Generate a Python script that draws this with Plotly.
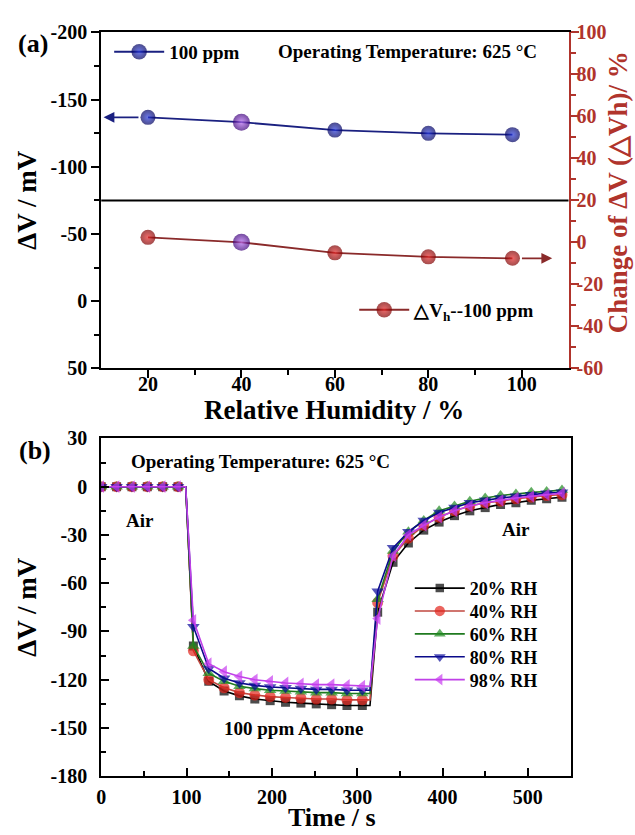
import plotly.graph_objects as go

W, H = 635, 835

# ---------------- panel (a) data ----------------
rh = [20, 40, 60, 80, 98]
dv_100ppm = [-136.8, -133.2, -127.3, -124.9, -123.9]   # left axis, mV
dv_change = [2.4, 0.0, -5.0, -6.9, -7.6]              # right axis, %
rh_ticks = [20, 40, 60, 80, 100]
rh_minor = [30, 50, 70, 90]
dv_ticks_a = [-200, -150, -100, -50, 0, 50]
dv_minor_a = [-175, -125, -75, -25, 25]
chg_ticks = [-60, -40, -20, 0, 20, 40, 60, 80, 100]
chg_minor = [-50, -30, -10, 10, 30, 50, 70, 90]

# ---------------- panel (b) data ----------------
time_s = [0, 18, 36, 54, 72, 90, 99,
          108, 126, 144, 162, 180, 198, 216, 234, 252, 270, 288, 306, 315,
          324, 342, 360, 378, 396, 414, 432, 450, 468, 486, 504, 522, 540]
unmarked_t = [99, 315]
rh20 = [0, 0, 0, 0, 0, 0, 0,
        -99, -121, -127, -130, -132, -133, -134, -134.5, -135, -135.5, -136, -136, -136,
        -78, -47, -35, -27, -22, -18, -15, -13, -11, -10, -8.5, -7.5, -6.5]
rh40 = [0, 0, 0, 0, 0, 0, 0,
        -102, -120, -125, -128, -129.5, -130.5, -131, -131.5, -132, -132, -132.5, -132.5, -132.5,
        -72, -43, -32, -24, -19, -15, -12, -10, -9, -7.5, -6.5, -5.5, -5]
rh60 = [0, 0, 0, 0, 0, 0, 0,
        -99, -116, -121, -124, -125.5, -126.5, -127, -127.5, -128, -128, -128.5, -128.5, -128.5,
        -70, -40, -28, -21, -15, -12, -9, -7, -5.5, -4.5, -3.5, -3, -2]
rh80 = [0, 0, 0, 0, 0, 0, 0,
        -87, -113, -119, -122, -123.5, -124.5, -125, -125.5, -126, -126, -126.5, -126.5, -126.5,
        -65, -38, -28, -21, -16, -13, -10, -8.5, -7, -6, -5, -4, -3.5]
rh98 = [0, 0, 0, 0, 0, 0, 0,
        -83, -110, -115, -118, -120, -121, -122, -122.5, -123, -123, -123.5, -124, -124,
        -82, -43, -30, -24, -19, -15, -12, -10, -8.5, -7, -6, -5, -4]
series_names = ["20% RH", "40% RH", "60% RH", "80% RH", "98% RH"]
time_ticks = [0, 100, 200, 300, 400, 500]
dv_ticks_b = [-180, -150, -120, -90, -60, -30, 0, 30]

# ---------------- styling ----------------
FONT = "Liberation Serif"
DARKRED = "#b0342c"


def px(x):
    return x / W


def py(y):
    return 1 - y / H


# plot boxes in pixels (left, top, right, bottom)
box_a = (97, 22, 568, 367)
box_b = (97, 439, 570, 786)

fig = go.Figure()

# ---- panel (a) traces ----
ref_idx = rh.index(40)
blue_edge = ["#3a0078" if i == ref_idx else "#00005c" for i in range(len(rh))]
blue_core = ["#b86cf4" if i == ref_idx else "#2a3ce0" for i in range(len(rh))]
red_edge = ["#3a0078" if i == ref_idx else "#7c0000" for i in range(len(rh))]
red_core = ["#b86cf4" if i == ref_idx else "#e82a2a" for i in range(len(rh))]
sizes_a = [17 if i == ref_idx else 15 for i in range(len(rh))]

fig.add_trace(go.Scatter(
    x=rh, y=dv_100ppm, mode="lines+markers", name="100 ppm",
    xaxis="x", yaxis="y", legend="legend", showlegend=True,
    line=dict(color="#1a2080", width=1.8),
    marker=dict(color=blue_edge, size=sizes_a, line=dict(width=0),
                gradient=dict(type="radial", color=blue_core)),
))
fig.add_trace(go.Scatter(
    x=rh, y=dv_change, mode="lines+markers", name="△V<sub>h</sub>--100 ppm",
    xaxis="x", yaxis="y2", legend="legend2", showlegend=True,
    line=dict(color="#8a2a2a", width=1.8),
    marker=dict(color=red_edge, size=sizes_a, line=dict(width=0),
                gradient=dict(type="radial", color=red_core)),
))

# ---- panel (b) traces (one single-entry legend per series for exact row spacing) ----
styles = [
    ("#000000", "#000000", "square", 9),
    ("#e3241b", "#c0473f", "circle", 11),
    ("#1f8a1f", "#1f7a1f", "triangle-up", 11),
    ("#0a0a9a", "#0a0a8a", "triangle-down", 11),
    ("#c83cf0", "#c040e8", "triangle-left", 11),
]
leg_font_b = dict(family=FONT, size=18, color="black", weight="bold")
legend_rows = {}
for k, (name, ys, (mc, lc, sym, ms)) in enumerate(
        zip(series_names, [rh20, rh40, rh60, rh80, rh98], styles)):
    msz = [0 if t in unmarked_t else ms for t in time_s]
    lname = "legend%d" % (k + 3)
    fig.add_trace(go.Scatter(
        x=time_s, y=ys, mode="lines+markers", name=name,
        xaxis="x2", yaxis="y3", legend=lname, showlegend=True,
        line=dict(color=lc, width=1.6),
        marker=dict(color=mc, symbol=sym, size=msz, line=dict(width=0)),
    ))
    legend_rows[lname] = dict(x=px(408), y=py(593 + 23.5 * k), xanchor="left",
                              yanchor="middle", bgcolor="rgba(0,0,0,0)", itemwidth=50,
                              font=leg_font_b)

tickfont = dict(family=FONT, size=20, color="black", weight="bold")
titlefont = dict(family=FONT, size=27, color="black", weight="bold")
ytitlefont = dict(family=FONT, size=27, color="black", weight="bold")

axis_common = dict(showline=True, linecolor="black", linewidth=2, showgrid=False,
                   zeroline=False, tickwidth=2, tickcolor="black", tickfont=tickfont)

fig.update_layout(
    width=W, height=H, margin=dict(l=0, r=0, t=0, b=0),
    paper_bgcolor="white", plot_bgcolor="white", showlegend=True,
    font=dict(family=FONT, color="black"),
    xaxis=dict(**axis_common, domain=[px(box_a[0]), px(box_a[2])], anchor="y",
               range=[10, 110], tickmode="array", tickvals=rh_ticks,
               ticktext=[str(v) for v in rh_ticks], ticks="outside", ticklen=8,
               ticklabelstandoff=-11,
               minor=dict(tickmode="array", tickvals=rh_minor, ticks="outside", ticklen=5,
                          tickwidth=2, tickcolor="black"),
               mirror=True),
    yaxis=dict(**axis_common, domain=[py(box_a[3]), py(box_a[1])], anchor="x",
               range=[50, -200], tickmode="array", tickvals=dv_ticks_a,
               ticktext=[str(v) for v in dv_ticks_a], ticks="outside", ticklen=8,
               minor=dict(tickmode="array", tickvals=dv_minor_a, ticks="outside", ticklen=5,
                          tickwidth=2, tickcolor="black")),
    yaxis2=dict(showline=True, linecolor=DARKRED, linewidth=2, showgrid=False, zeroline=False,
                overlaying="y", side="right", anchor="x",
                range=[-60, 100], tickmode="array", tickvals=chg_ticks,
                ticktext=[str(v) for v in chg_ticks], ticks="outside", ticklen=8,
                tickwidth=2, tickcolor=DARKRED, ticklabelstandoff=-6,
                tickfont=dict(family=FONT, size=20, color=DARKRED, weight="bold"),
                minor=dict(tickmode="array", tickvals=chg_minor, ticks="outside", ticklen=5,
                           tickwidth=2, tickcolor=DARKRED)),
    xaxis2=dict(**axis_common, domain=[px(box_b[0]), px(box_b[2])], anchor="y3",
                range=[0, 550], tickmode="array", tickvals=time_ticks,
                ticktext=[str(v) for v in time_ticks], ticks="inside", ticklen=8,
                ticklabelstandoff=2,
                minor=dict(dtick=50, tick0=50, ticks="inside", ticklen=5, tickwidth=2,
                           tickcolor="black"),
                mirror=True),
    yaxis3=dict(**axis_common, domain=[py(box_b[3]), py(box_b[1])], anchor="x2",
                range=[-180, 30], tickmode="array", tickvals=dv_ticks_b,
                ticktext=[str(v) for v in dv_ticks_b], ticks="inside", ticklen=8,
                ticklabelstandoff=8,
                minor=dict(dtick=15, tick0=-165, ticks="inside", ticklen=5, tickwidth=2,
                           tickcolor="black"),
                mirror=True),
    legend=dict(x=px(105), y=py(42), xanchor="left", yanchor="middle",
                bgcolor="rgba(0,0,0,0)", itemwidth=50,
                font=dict(family=FONT, size=19, color="black", weight="bold")),
    legend2=dict(x=px(352), y=py(307), xanchor="left", yanchor="middle",
                 bgcolor="rgba(0,0,0,0)", itemwidth=50,
                 font=dict(family=FONT, size=19, color="black", weight="bold")),
    **legend_rows,
)

# divider line across panel (a) at the boundary between the two data regions
fig.add_shape(type="line", xref="x domain", x0=0, x1=1, yref="y2", y0=20, y1=20,
              line=dict(color="black", width=2))

# arrows pointing towards each series' axis
fig.add_annotation(x=10.5, y=dv_100ppm[0], ax=rh[0], ay=dv_100ppm[0],
                   xref="x", yref="y", axref="x", ayref="y", text="",
                   showarrow=True, arrowhead=2, arrowsize=1.2, arrowwidth=1.8,
                   arrowcolor="#1a2080", startstandoff=8)
fig.add_annotation(x=106.5, y=dv_change[-1], ax=rh[-1], ay=dv_change[-1],
                   xref="x", yref="y2", axref="x", ayref="y2", text="",
                   showarrow=True, arrowhead=2, arrowsize=1.2, arrowwidth=1.8,
                   arrowcolor="#8a2a2a", startstandoff=8)

# axis titles and labels
lblfont = dict(family=FONT, size=19, color="black", weight="bold")
texts = [
    ("(a)", 28, 33, 0, dict(family=FONT, size=26, color="black", weight="bold")),
    ("(b)", 30, 451, 0, dict(family=FONT, size=26, color="black", weight="bold")),
    ("Relative Humidity / %", 332, 410, 0, titlefont),
    ("Time / s", 330, 828, 0, dict(family=FONT, size=26, color="black", weight="bold")),
    ("ΔV / mV", 22, 194, -90, ytitlefont),
    ("ΔV / mV", 22, 612, -90, ytitlefont),
    ("Change of ΔV (△Vh)/ %", 618, 186, -90,
     dict(family=FONT, size=27, color=DARKRED, weight="bold")),
    ("Operating Temperature: 625 °C", 406, 42, 0, lblfont),
    ("Operating Temperature: 625 °C", 258, 463, 0, lblfont),
    ("Air", 136, 523, 0, lblfont),
    ("Air", 515, 533, 0, lblfont),
    ("100 ppm Acetone", 291, 737, 0, lblfont),
]
for t, x, y, ang, f in texts:
    fig.add_annotation(x=px(x), y=py(y), xref="paper", yref="paper", text=t,
                       showarrow=False, xanchor="center", yanchor="middle",
                       textangle=ang, font=f)

fig.write_html("out.html")
